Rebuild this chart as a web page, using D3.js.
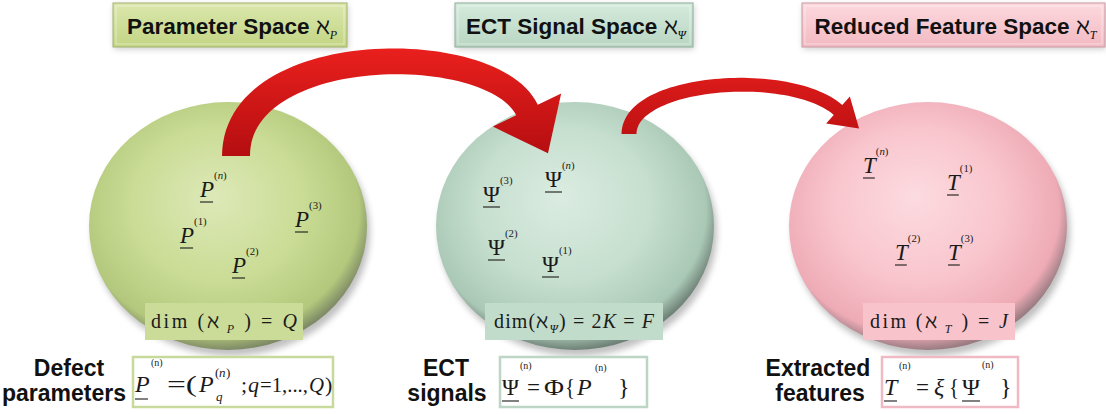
<!DOCTYPE html>
<html>
<head>
<meta charset="utf-8">
<script src="https://cdn.jsdelivr.net/npm/d3@7"></script>
<style>
  body { margin: 0; background: #fff; }
  text { font-family: "Liberation Serif", "DejaVu Serif", serif; }
  .sans { font-family: "Liberation Sans", Arial, sans-serif; font-weight: bold; }
</style>
</head>
<body>
<main></main>
<script>
const width = 1106, height = 414;

// ---- data ----
const spaceNames = ["Parameter Space", "ECT Signal Space", "Reduced Feature Space"];
const spaceSubs = ["P", "\u03A8", "T"];
const symbols = ["P", "\u03A8", "T"];
const memberLabels = [
  ["n", "1", "2", "3"],
  ["3", "n", "2", "1"],
  ["n", "1", "2", "3"]
];
const dimRhs = ["Q", "2K = F", "J"];
const captions = [["Defect", "parameters"], ["ECT", "signals"], ["Extracted", "features"]];

// ---- layout ----
const panels = [
  { cx: 228, cy: 226, light: "#dde9b8", base: "#cadc95", edge: "#b3c87c", rim: "#7f8b66",
    title: [113, 234], titleTop: "#dbe7ad", titleBot: "#c3d584", titleStroke: "#a3b26f",
    dim: [145, 158], dimLen: 146, dimFill: "#cbdc98", box: [133, 200], boxStroke: "#c8d99c",
    members: [[-28, -29], [-48, 17], [4, 47], [67, 1]] },
  { cx: 575, cy: 226, light: "#dbece1", base: "#c6dfcf", edge: "#aac8b6", rim: "#6f8277",
    title: [455, 238], titleTop: "#d5eadc", titleBot: "#b9d6c3", titleStroke: "#8fae9b",
    dim: [485, 178], dimLen: 160, dimFill: "#c2dccb", box: [500, 147], boxStroke: "#bcd5c5",
    members: [[-92, -24], [-30, -39], [-87, 29], [-33, 46]] },
  { cx: 928, cy: 226, light: "#fcdbe0", base: "#f9c5cd", edge: "#eeabb6", rim: "#9a7c82",
    title: [802, 303], titleTop: "#fcd9de", titleBot: "#f3b9c2", titleStroke: "#c99aa2",
    dim: [863, 152], dimLen: 138, dimFill: "#f8c3cb", box: [882, 136], boxStroke: "#f0bac4",
    members: [[-65, -53], [19, -36], [-33, 34], [20, 34]] }
];
const rx = 139, ry = 124;

const svg = d3.select("main").append("svg")
    .attr("width", width)
    .attr("height", height);

const defs = svg.append("defs");

defs.append("filter").attr("id", "blur")
    .attr("x", "-20%").attr("y", "-20%").attr("width", "140%").attr("height", "140%")
  .append("feGaussianBlur").attr("stdDeviation", 3);

panels.forEach((p, i) => {
  const g = defs.append("radialGradient").attr("id", "disc" + i)
      .attr("cx", "47%").attr("cy", "44%").attr("r", "56%")
      .attr("fx", "45%").attr("fy", "38%");
  g.append("stop").attr("offset", "0%").attr("stop-color", p.light);
  g.append("stop").attr("offset", "55%").attr("stop-color", p.base);
  g.append("stop").attr("offset", "90%").attr("stop-color", p.edge);
  g.append("stop").attr("offset", "100%").attr("stop-color", p.rim);

  const t = defs.append("linearGradient").attr("id", "title" + i)
      .attr("x1", 0).attr("y1", 0).attr("x2", 0).attr("y2", 1);
  t.append("stop").attr("offset", "0%").attr("stop-color", p.titleTop);
  t.append("stop").attr("offset", "100%").attr("stop-color", p.titleBot);
});

const red = defs.append("linearGradient").attr("id", "red")
    .attr("gradientUnits", "userSpaceOnUse")
    .attr("x1", 0).attr("y1", 30).attr("x2", 0).attr("y2", 160);
red.append("stop").attr("offset", "0%").attr("stop-color", "#f2231f");
red.append("stop").attr("offset", "100%").attr("stop-color", "#b30d10");

// ---- discs ----
const discs = svg.append("g");
panels.forEach((p, i) => {
  discs.append("ellipse")
      .attr("cx", p.cx + 3).attr("cy", p.cy + 6)
      .attr("rx", rx).attr("ry", ry)
      .attr("fill", "#8c8c8c").attr("opacity", 0.55)
      .attr("filter", "url(#blur)");
  discs.append("ellipse")
      .attr("cx", p.cx).attr("cy", p.cy)
      .attr("rx", rx).attr("ry", ry)
      .attr("fill", "url(#disc" + i + ")");
});

// ---- title boxes ----
panels.forEach((p, i) => {
  const g = svg.append("g");
  g.append("rect")
      .attr("x", p.title[0] + 1).attr("y", 5).attr("width", p.title[1]).attr("height", 44)
      .attr("fill", "#999").attr("opacity", 0.5).attr("filter", "url(#blur)");
  g.append("rect")
      .attr("x", p.title[0]).attr("y", 3).attr("width", p.title[1]).attr("height", 44)
      .attr("fill", "url(#title" + i + ")")
      .attr("stroke", p.titleStroke).attr("stroke-width", 1);
  g.append("rect")
      .attr("x", p.title[0] + 3).attr("y", 6).attr("width", p.title[1] - 6).attr("height", 38)
      .attr("fill", "none").attr("stroke", "#fff").attr("stroke-opacity", 0.45);
  const txt = g.append("text")
      .attr("x", p.title[0] + p.title[1] / 2 + 2).attr("y", 34)
      .attr("text-anchor", "middle")
      .attr("font-size", 22.5)
      .attr("fill", "#111");
  txt.append("tspan").attr("class", "sans").text(spaceNames[i] + " ");
  txt.append("tspan").attr("font-size", 23).text("\u2135");
  txt.append("tspan").attr("font-size", 12).attr("font-style", "italic")
      .attr("dy", 5).text(spaceSubs[i]);
});

// ---- arrows ----
function ribbonArrow(p0, p1, p2, p3, w0, w1, headHalf, headLen) {
  const pts = d3.range(0, 1.0001, 1 / 60).map(t => {
    const a = (1 - t) * (1 - t) * (1 - t), b = 3 * (1 - t) * (1 - t) * t,
          c = 3 * (1 - t) * t * t, d = t * t * t;
    const x = a * p0[0] + b * p1[0] + c * p2[0] + d * p3[0];
    const y = a * p0[1] + b * p1[1] + c * p2[1] + d * p3[1];
    const dx = 3 * (1 - t) * (1 - t) * (p1[0] - p0[0]) + 6 * (1 - t) * t * (p2[0] - p1[0]) + 3 * t * t * (p3[0] - p2[0]);
    const dy = 3 * (1 - t) * (1 - t) * (p1[1] - p0[1]) + 6 * (1 - t) * t * (p2[1] - p1[1]) + 3 * t * t * (p3[1] - p2[1]);
    const len = Math.hypot(dx, dy);
    return { x, y, ux: dx / len, uy: dy / len, w: w0 + (w1 - w0) * t };
  });
  const left = pts.map(q => [q.x - q.uy * q.w / 2, q.y + q.ux * q.w / 2]);
  const right = pts.map(q => [q.x + q.uy * q.w / 2, q.y - q.ux * q.w / 2]);
  const e = pts[pts.length - 1];
  const head = [
    [e.x - e.uy * headHalf, e.y + e.ux * headHalf],
    [e.x + e.ux * headLen, e.y + e.uy * headLen],
    [e.x + e.uy * headHalf, e.y - e.ux * headHalf]
  ];
  return d3.line()(left.concat(head, right.reverse())) + "Z";
}

const arrows = svg.append("g");
arrows.append("path")
    .attr("d", ribbonArrow([236, 156], [236, 40], [492, 38], [527, 110], 28, 24, 38, 48))
    .attr("fill", "url(#red)");
arrows.append("path")
    .attr("d", ribbonArrow([629, 134], [629, 80], [790, 68], [838, 110], 15, 13, 18, 28))
    .attr("fill", "url(#red)");

// ---- members inside discs ----
function member(g, x, y, sym, label, size, italic) {
  const t = g.append("text")
      .attr("x", x).attr("y", y)
      .attr("font-size", size)
      .attr("font-style", italic ? "italic" : "normal")
      .attr("fill", "#1a1a1a")
      .text(sym);
  const w = t.node().getComputedTextLength();
  g.append("line")
      .attr("x1", x).attr("x2", x + w - (italic ? 1 : 0))
      .attr("y1", y + 5).attr("y2", y + 5)
      .attr("stroke", "#1a1a1a").attr("stroke-width", 1.1);
  const s = g.append("text")
      .attr("x", x + w).attr("y", y - size * 0.8)
      .attr("font-size", size * 0.47)
      .attr("fill", "#1a1a1a");
  s.append("tspan").text("(");
  s.append("tspan").attr("font-style", label === "n" ? "italic" : "normal").text(label);
  s.append("tspan").text(")");
}

panels.forEach((p, i) => {
  const g = svg.append("g");
  memberLabels[i].forEach((lab, k) => {
    member(g, p.cx + p.members[k][0], p.cy + p.members[k][1], symbols[i], lab, 23, i !== 1);
  });
});

// ---- dim boxes ----
panels.forEach((p, i) => {
  const g = svg.append("g");
  g.append("rect")
      .attr("x", p.dim[0]).attr("y", 303).attr("width", p.dim[1]).attr("height", 37)
      .attr("fill", p.dimFill);
  const t = g.append("text")
      .attr("x", p.dim[0] + (p.dim[1] - p.dimLen) / 2).attr("y", 328)
      .attr("font-size", 20)
      .attr("fill", "#1a1a1a")
      .attr("textLength", p.dimLen)
      .attr("lengthAdjust", "spacing");
  const spaced = i !== 1;
  t.append("tspan").text(spaced ? "dim (" : "dim(");
  t.append("tspan").text("\u2135");
  t.append("tspan").attr("font-size", 12).attr("font-style", "italic").attr("dy", 5)
      .text((spaced ? " " : "") + spaceSubs[i]);
  t.append("tspan").attr("dy", -5).text(spaced ? " ) = " : ") = ");
  const rhs = dimRhs[i].split(/([A-Z])/);
  rhs.forEach(s => {
    if (!s) return;
    t.append("tspan").attr("font-style", /[A-Z]/.test(s) ? "italic" : "normal").text(s);
  });
});

// ---- captions and formula boxes ----
const capX = [[69, 64], [446, 447], [818, 820]];
panels.forEach((p, i) => {
  svg.append("rect")
      .attr("x", p.box[0]).attr("y", 357).attr("width", p.box[1]).attr("height", 50)
      .attr("fill", "#fff")
      .attr("stroke", p.boxStroke).attr("stroke-width", 2.5);
  captions[i].forEach((c, k) => {
    svg.append("text")
        .attr("class", "sans")
        .attr("x", capX[i][k]).attr("y", k === 0 ? 376 : 401)
        .attr("text-anchor", "middle")
        .attr("font-size", 23)
        .attr("fill", "#111")
        .text(c);
  });
});

const f = svg.append("g").attr("fill", "#1a1a1a");
function put(x, y, s, size, italic, len) {
  const t = f.append("text").attr("x", x).attr("y", y)
      .attr("font-size", size).attr("font-style", italic ? "italic" : "normal").text(s);
  if (len) t.attr("textLength", len).attr("lengthAdjust", "spacingAndGlyphs");
  return t;
}
function uline(x1, x2, y) {
  f.append("line").attr("x1", x1).attr("x2", x2).attr("y1", y).attr("y2", y)
      .attr("stroke", "#1a1a1a").attr("stroke-width", 1.1);
}

// formula 1: P(n) = (P_q(n); q = 1,...,Q)
put(135, 392, "P", 24, true);
uline(135, 148, 399);
put(151, 366, "(n)", 10, false);
put(167, 392, "=(", 24, false, 30);
put(199, 392, "P", 24, true);
put(215, 377, "(", 13, false);
put(219, 377, "n", 13, true);
put(226, 377, ")", 13, false);
put(216, 401, "q", 13, true);
put(241, 392, ";", 22, false);
put(248, 392, "q", 22, true);
put(260, 392, "=1,...,", 22, false, 48);
put(309, 392, "Q", 22, true, 15);
put(325, 392, ")", 22, false);

// formula 2: Psi(n) = Phi{P(n)}
put(502, 395, "\u03A8", 24, false, 17);
uline(502, 519, 401);
put(520, 369, "(n)", 10, false);
put(527, 395, "=", 24, false, 13);
put(544, 395, "\u03A6", 24, false, 20);
put(565, 395, "{", 24, false, 10);
put(577, 395, "P", 24, true);
put(595, 371, "(n)", 10, false);
put(618, 395, "}", 24, false);

// formula 3: T(n) = xi{Psi(n)}
put(884, 395, "T", 24, true);
uline(884, 897, 401);
put(899, 369, "(n)", 10, false);
put(916, 395, "=", 24, false, 13);
put(934, 395, "\u03BE", 24, true);
put(949, 395, "{", 24, false, 10);
put(962, 395, "\u03A8", 24, false, 18);
uline(962, 980, 401);
put(982, 368, "(n)", 10, false);
put(1000, 395, "}", 24, false);
</script>
</body>
</html>
